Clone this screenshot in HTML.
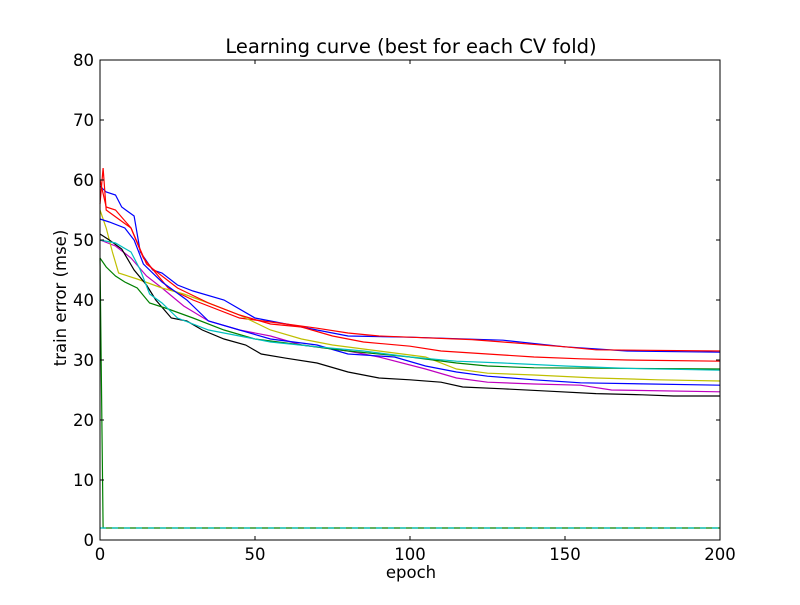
<!DOCTYPE html>
<html><head><meta charset="utf-8"><style>
body{margin:0;background:#fff;}
svg text{font-family:"DejaVu Sans","Liberation Sans",sans-serif;fill:#000;}
</style></head><body>
<svg id="chart" width="800" height="600">
<rect width="800" height="600" fill="#fff"/>
<text x="411" y="53" font-size="19.5" text-anchor="middle">Learning curve (best for each CV fold)</text>
<g id="plot"></g>
<g id="axes"></g>
<text x="411" y="578" font-size="16.5" text-anchor="middle">epoch</text>
<text x="0" y="0" font-size="16.5" text-anchor="middle" transform="translate(66,298) rotate(-90)">train error (mse)</text>
</svg>
<script>
const xTicks=[0,50,100,150,200];
const yTicks=[0,10,20,30,40,50,60,70,80];
const seriesNames=['blue-top','green-flat','red-top','cyan-flat','magenta','yellow','black','blue-2','green','red-2','cyan'];
const seriesColors=['#0000ff','#008000','#ff0000','#00bfbf','#bf00bf','#bfbf00','#000000','#0000ff','#008000','#ff0000','#00bfbf'];
const s0x=[0,2,5,7,11,13,17,20,25,30,40,50,60,70,80,100,130,150,170,200];
const s0y=[59,58,57.5,55.5,54,48,45,44.5,42.5,41.5,40,37,36,35,34,33.8,33.3,32.2,31.5,31.3];
const s1x=[0,1,200];
const s1y=[47,2,2];
const s2x=[0,1,2,10,14,22,30,45,60,70,80,90,100,120,130,150,160,200];
const s2y=[56,62,55,52,47,42,40,37,36,35.3,34.5,34,33.8,33.4,33,32.2,31.7,31.5];
const s3x=[0,1,200];
const s3y=[2,2,2];
const s4x=[0,5,10,15,20,27,35,45,55,65,80,90,105,115,125,140,155,165,200];
const s4y=[50,49,47,44,42,39,36.5,35,34,32.5,31.5,30.5,28.5,27,26.3,26,25.8,25,24.7];
const s5x=[0,2,4,6,12,20,27,35,45,55,65,75,90,105,115,125,140,160,180,200];
const s5y=[55,52,48,44.5,43.5,42,41,39.5,37.5,35,33.5,32.5,31.5,30.5,28.5,27.8,27.5,27,26.7,26.5];
const s6x=[0,3,7,11,15,18,23,28,33,40,47,52,60,70,80,90,100,110,117,130,145,160,175,185,200];
const s6y=[51,50,48.5,45,42.5,40,37,36.5,35,33.5,32.5,31,30.3,29.5,28,27,26.7,26.3,25.5,25.2,24.8,24.4,24.2,24,24];
const s7x=[0,3,8,11,14,20,28,35,45,55,70,80,95,105,115,125,140,155,200];
const s7y=[53.5,53,52,50,46,43,40,36.5,35,33.5,32.5,31,30.5,29,28,27.3,26.7,26.2,25.8];
const s8x=[0,2,5,8,12,16,22,30,40,50,65,80,100,115,125,140,200];
const s8y=[47,45.5,44,43,42,39.5,38.5,37,35,33.5,32.5,31.5,30.5,29.5,29,28.7,28.5];
const s9x=[0,2,5,10,15,25,35,45,55,65,75,85,100,110,125,140,155,170,200];
const s9y=[60,55.5,55,52,46,42,39.5,37.5,36,35.5,34,33,32.3,31.5,31,30.5,30.2,30,29.8];
const s10x=[0,5,10,13,16,20,25,35,45,55,70,85,100,115,130,150,170,200];
const s10y=[50,49.5,48,45,41,39.5,37,35,34,33,32.2,31.5,30.5,29.8,29.5,29,28.6,28.3];
const allX=[s0x,s1x,s2x,s3x,s4x,s5x,s6x,s7x,s8x,s9x,s10x];
const allY=[s0y,s1y,s2y,s3y,s4y,s5y,s6y,s7y,s8y,s9y,s10y];

const L=100,R=720,T=60,B=540;
const xs=v=>L+(v-0)/(200-0)*(R-L);
const ys=v=>B-(v-0)/(80-0)*(B-T);
const NS='http://www.w3.org/2000/svg';
const plot=document.getElementById('plot'),axes=document.getElementById('axes');
allX.forEach((xa,i)=>{
  const p=document.createElementNS(NS,'polyline');
  p.setAttribute('points',xa.map((x,j)=>xs(x)+','+ys(allY[i][j])).join(' '));
  p.setAttribute('fill','none');
  p.setAttribute('stroke',seriesColors[i]);
  p.setAttribute('stroke-width','1.2');
  if(i===3)p.setAttribute('stroke-dasharray','6,6');
  
  
  plot.appendChild(p);
});
const frame=document.createElementNS(NS,'rect');
frame.setAttribute('x',L);frame.setAttribute('y',T);frame.setAttribute('width',R-L);frame.setAttribute('height',B-T);
frame.setAttribute('fill','none');frame.setAttribute('stroke','#000');frame.setAttribute('stroke-width','1');


axes.appendChild(frame);
xTicks.forEach(t=>{
  const x=xs(t);
  [[B,B-4],[T,T+4]].forEach(([a,b])=>{
    const l=document.createElementNS(NS,'line');
    l.setAttribute('x1',x);l.setAttribute('x2',x);l.setAttribute('y1',a);l.setAttribute('y2',b);l.setAttribute('stroke','#000');
    
    
    axes.appendChild(l);
  });
  const tx=document.createElementNS(NS,'text');
  tx.setAttribute('x',x);tx.setAttribute('y',B+20);tx.setAttribute('font-size','16.5');tx.setAttribute('text-anchor','middle');
  tx.textContent=t;
  
  
  axes.appendChild(tx);
});
yTicks.forEach(t=>{
  const y=ys(t);
  [[L,L+4],[R,R-4]].forEach(([a,b])=>{
    const l=document.createElementNS(NS,'line');
    l.setAttribute('y1',y);l.setAttribute('y2',y);l.setAttribute('x1',a);l.setAttribute('x2',b);l.setAttribute('stroke','#000');
    
    
    axes.appendChild(l);
  });
  const tx=document.createElementNS(NS,'text');
  tx.setAttribute('x',L-6);tx.setAttribute('y',y+6);tx.setAttribute('font-size','16.5');tx.setAttribute('text-anchor','end');
  tx.textContent=t;
  
  
  axes.appendChild(tx);
});
</script>
</body></html>
